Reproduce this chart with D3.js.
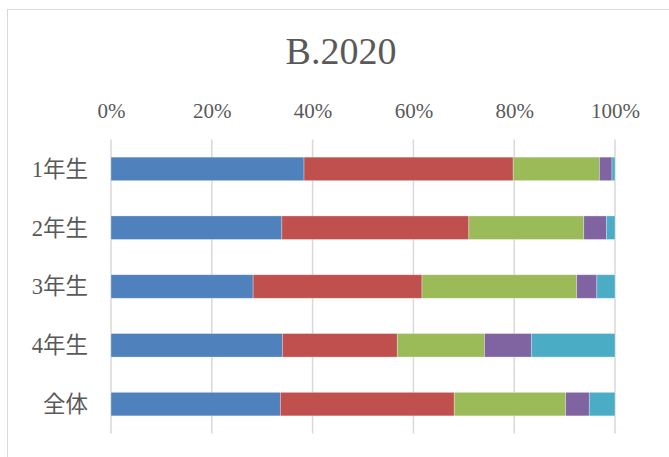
<!DOCTYPE html>
<html><head><meta charset="utf-8">
<script src="https://cdn.jsdelivr.net/npm/d3@7/dist/d3.min.js"></script>
<style>body{margin:0;background:#fff}svg{display:block}</style>
</head><body><svg id="c" width="669" height="457"></svg>
<script>
const title = "B.2020";
const categories = ["1年生","2年生","3年生","4年生","全体"];
const seriesNames = ["S1","S2","S3","S4","S5"];
const s1 = [38.3, 33.9, 28.2, 34.0, 33.6];
const s2 = [41.5, 37.1, 33.5, 22.8, 34.5];
const s3 = [17.1, 22.8, 30.7, 17.3, 22.1];
const s4 = [2.5, 4.5, 4.0, 9.3, 4.7];
const s5 = [0.6, 1.7, 3.6, 16.6, 5.1];
const tickValues = [0, 0.2, 0.4, 0.6, 0.8, 1.0];
const colors = ["#4f81bd","#c0504d","#9bbb59","#8064a2","#4bacc6"];

const series = [s1,s2,s3,s4,s5];
const rows = categories.map((c,i)=>{
  const o = {cat:c};
  const tot = d3.sum(series, s=>s[i]);
  seriesNames.forEach((n,k)=>o[n]=series[k][i]/tot);
  return o;
});
const stack = d3.stack().keys(seriesNames)(rows);

const svg = d3.select("#c");
svg.append("rect").attr("x",7.5).attr("y",9.5).attr("width",700).attr("height",500)
  .attr("fill","#fff").attr("stroke","#d9d9d9").attr("stroke-width",1);

const x = d3.scaleLinear().domain([0,1]).range([111,615]);
const y = d3.scaleBand().domain(categories).range([139.5,433.5]).paddingInner(0.6).paddingOuter(0.3);

svg.append("text").attr("x",341).attr("y",64).attr("text-anchor","middle")
  .attr("font-family","Liberation Serif, serif").attr("font-size",38).attr("fill","#595959").text(title);

// gridlines
svg.append("g").selectAll("line").data(tickValues).join("line")
  .attr("x1",d=>x(d)).attr("x2",d=>x(d)).attr("y1",139.5).attr("y2",433.5)
  .attr("stroke","#d9d9d9").attr("stroke-width",1.5);

const xAxis = svg.append("g").attr("transform","translate(0,121)")
  .call(d3.axisTop(x).tickValues(tickValues).tickFormat(d3.format(".0%")).tickSize(0));
xAxis.select(".domain").remove();
xAxis.selectAll("text").attr("font-family","Liberation Serif, serif").attr("font-size",21).attr("fill","#595959").attr("dy","0");

const yAxis = svg.append("g").attr("transform","translate(90,0)")
  .call(d3.axisLeft(y).tickSize(0));
yAxis.select(".domain").remove();
yAxis.selectAll("text").attr("font-family","Liberation Serif, 'Noto Sans CJK JP', serif").attr("font-size",22.5).attr("fill","#595959").attr("dy","0.35em").attr("x",-2);

svg.append("g").selectAll("g").data(stack).join("g").attr("fill",(d,i)=>colors[i])
  .selectAll("rect").data(d=>d).join("rect")
  .attr("x",d=>x(d[0])).attr("width",d=>x(d[1])-x(d[0]))
  .attr("y",d=>y(d.data.cat)).attr("height",y.bandwidth())
  .attr("stroke","#ffffff").attr("stroke-opacity",0.4).attr("stroke-width",0.75);
</script></body></html>
